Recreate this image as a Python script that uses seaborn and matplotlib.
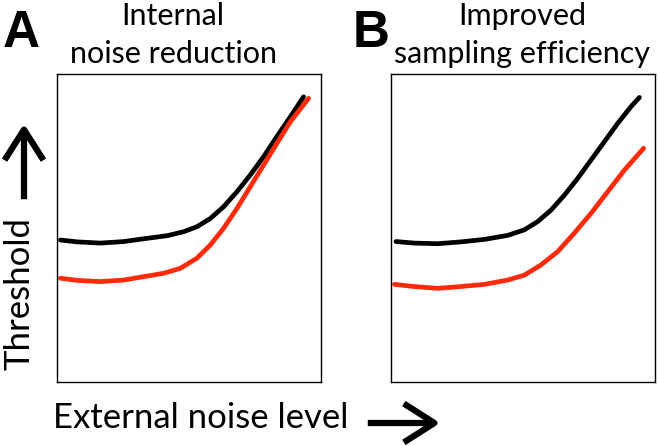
import numpy as np
import pandas as pd
import matplotlib
matplotlib.use('Agg')
import matplotlib.pyplot as plt
from matplotlib.patches import FancyArrowPatch
import seaborn as sns

# Curves (x: external noise, y: threshold, 0-10 box units)
ext_noise_a_black = [0.13, 0.76, 1.64, 2.53, 3.28, 4.17, 4.80, 5.30, 5.81, 6.31, 6.82, 7.32, 7.83, 8.33, 8.84, 9.34]
thresh_a_black = [4.61, 4.55, 4.51, 4.56, 4.65, 4.75, 4.88, 5.04, 5.31, 5.69, 6.18, 6.72, 7.32, 7.97, 8.61, 9.26]
ext_noise_a_red = [0.13, 0.76, 1.64, 2.53, 3.28, 4.04, 4.67, 5.30, 5.81, 6.31, 6.82, 7.32, 7.83, 8.33, 8.84, 9.53]
thresh_a_red = [3.37, 3.30, 3.26, 3.31, 3.42, 3.53, 3.69, 4.02, 4.45, 4.99, 5.64, 6.34, 7.05, 7.75, 8.45, 9.21]

ext_noise_b_black = [0.19, 0.88, 1.77, 2.65, 3.54, 4.42, 5.05, 5.56, 6.06, 6.57, 7.07, 7.58, 8.08, 8.59, 9.09, 9.41]
thresh_b_black = [4.56, 4.51, 4.49, 4.55, 4.63, 4.76, 4.94, 5.21, 5.58, 6.07, 6.61, 7.21, 7.80, 8.40, 8.94, 9.24]
ext_noise_b_red = [0.13, 0.88, 1.77, 2.65, 3.54, 4.42, 5.05, 5.68, 6.31, 6.94, 7.58, 8.21, 8.84, 9.57]
thresh_b_red = [3.17, 3.10, 3.04, 3.10, 3.17, 3.31, 3.47, 3.80, 4.23, 4.83, 5.48, 6.18, 6.88, 7.59]

panel_letters = ['A', 'B']
panel_titles = [['Internal', 'noise reduction'], ['Improved', 'sampling efficiency']]

sns.set_style('white')
plt.rcParams['font.family'] = ['Lato', 'DejaVu Sans']
plt.rcParams['text.color'] = 'black'

W, H = 659, 445
fig = plt.figure(figsize=(W / 100, H / 100), dpi=100)

red = '#ff2a0a'

def add_panel(left_px, xa, ya, xr, yr):
    ax = fig.add_axes([left_px / W, (H - 382) / H, 264 / W, 308 / H])
    sns.lineplot(x=xa, y=ya, ax=ax, color='black', lw=3.4, sort=False)
    sns.lineplot(x=xr, y=yr, ax=ax, color=red, lw=3.4, sort=False)
    ax.set_xlim(0, 10)
    ax.set_ylim(0, 10)
    ax.set_xticks([])
    ax.set_yticks([])
    for s in ax.spines.values():
        s.set_visible(True)
        s.set_color('black')
        s.set_linewidth(1.0)
    return ax

add_panel(57, ext_noise_a_black, thresh_a_black, ext_noise_a_red, thresh_a_red)
add_panel(391, ext_noise_b_black, thresh_b_black, ext_noise_b_red, thresh_b_red)

def ftext(x, y, s, **kw):
    fig.text(x / W, 1 - y / H, s, color='black', **kw)

# panel letters
ftext(21, 47, panel_letters[0], fontsize=37, fontweight='bold',
      family='Liberation Sans', ha='center', va='baseline')
ftext(371, 47, panel_letters[1], fontsize=37, fontweight='bold',
      family='Liberation Sans', ha='center', va='baseline')

# panel titles
ftext(173, 25, panel_titles[0][0], fontsize=22, ha='center', va='baseline')
ftext(173, 63, panel_titles[0][1], fontsize=22, ha='center', va='baseline')
ftext(522, 25, panel_titles[1][0], fontsize=22, ha='center', va='baseline')
ftext(522, 63, panel_titles[1][1], fontsize=22, ha='center', va='baseline')

# axis labels
ftext(36, 294, 'Threshold', fontsize=25, rotation=90, ha='right', va='center')
ftext(53, 428, 'External noise level', fontsize=25, ha='left', va='baseline')

# arrows
arrow_kw = dict(transform=fig.transFigure, arrowstyle='->,head_length=1.1,head_width=0.7',
                mutation_scale=20, lw=4.5, color='black', capstyle='butt')
fig.add_artist(FancyArrowPatch((24 / W, 1 - 202 / H), (24 / W, 1 - 121 / H), **arrow_kw))
fig.add_artist(FancyArrowPatch((365 / W, 1 - 423 / H), (443 / W, 1 - 423 / H), **arrow_kw))

fig.savefig('out.png', dpi=100)
